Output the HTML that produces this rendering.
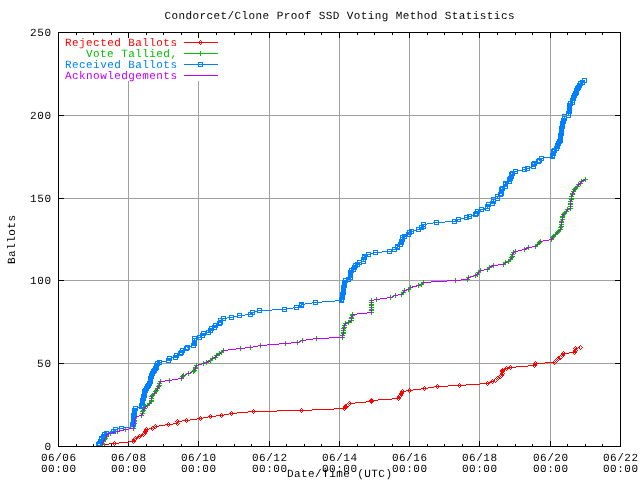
<!DOCTYPE html>
<html lang="en"><head><meta charset="utf-8">
<title>Condorcet/Clone Proof SSD Voting Method Statistics</title>
<style>
html,body{margin:0;padding:0;background:#fff;}
body{width:640px;height:480px;overflow:hidden;}
svg{display:block;will-change:transform;}
svg text{font-family:"Liberation Mono", "DejaVu Sans Mono", monospace;font-size:11px;white-space:pre;}
</style></head><body>
<svg width="640" height="480" viewBox="0 0 640 480" shape-rendering="crispEdges" text-rendering="geometricPrecision">
<rect width="640" height="480" fill="#fff"/>
<path d="M128.5 81.0V446.5M198.5 81.0V446.5M269.5 32.5V446.5M339.5 32.5V446.5M409.5 32.5V446.5M479.5 32.5V446.5M550.5 32.5V446.5M58.5 363.5H620.5M58.5 280.5H620.5M58.5 198.5H620.5M58.5 115.5H620.5" stroke="#a0a0a0" stroke-width="1" fill="none"/>
<path d="M58.5 33.0v5M58.5 446.0v-5M76.5 33.0v2M76.5 446.0v-2M93.5 33.0v2M93.5 446.0v-2M111.5 33.0v2M111.5 446.0v-2M128.5 33.0v5M128.5 446.0v-5M146.5 33.0v2M146.5 446.0v-2M163.5 33.0v2M163.5 446.0v-2M181.5 33.0v2M181.5 446.0v-2M198.5 33.0v5M198.5 446.0v-5M216.5 33.0v2M216.5 446.0v-2M234.5 33.0v2M234.5 446.0v-2M251.5 33.0v2M251.5 446.0v-2M269.5 33.0v5M269.5 446.0v-5M286.5 33.0v2M286.5 446.0v-2M304.5 33.0v2M304.5 446.0v-2M321.5 33.0v2M321.5 446.0v-2M339.5 33.0v5M339.5 446.0v-5M357.5 33.0v2M357.5 446.0v-2M374.5 33.0v2M374.5 446.0v-2M392.5 33.0v2M392.5 446.0v-2M409.5 33.0v5M409.5 446.0v-5M427.5 33.0v2M427.5 446.0v-2M444.5 33.0v2M444.5 446.0v-2M462.5 33.0v2M462.5 446.0v-2M479.5 33.0v5M479.5 446.0v-5M497.5 33.0v2M497.5 446.0v-2M515.5 33.0v2M515.5 446.0v-2M532.5 33.0v2M532.5 446.0v-2M550.5 33.0v5M550.5 446.0v-5M567.5 33.0v2M567.5 446.0v-2M585.5 33.0v2M585.5 446.0v-2M602.5 33.0v2M602.5 446.0v-2M620.5 33.0v5M620.5 446.0v-5M59.0 363.5h5M620.0 363.5h-5M59.0 280.5h5M620.0 280.5h-5M59.0 198.5h5M620.0 198.5h-5M59.0 115.5h5M620.0 115.5h-5" stroke="#000" stroke-width="1" fill="none"/>
<g>
<polyline points="103.5,444.5 114.5,443.5 133.5,441.5 134.5,439.5 135.5,438.5 139.5,436.5 143.5,434.5 144.5,433.5 145.5,431.5 146.5,429.5 152.5,428.5 155.5,426.5 168.5,424.5 177.5,423.5 177.5,421.5 186.5,420.5 200.5,418.5 210.5,416.5 221.5,415.5 231.5,413.5 253.5,411.5 301.5,410.5 344.5,408.5 345.5,406.5 347.5,405.5 349.5,403.5 371.5,401.5 371.5,400.5 398.5,398.5 399.5,396.5 400.5,395.5 401.5,393.5 402.5,391.5 409.5,390.5 424.5,388.5 437.5,386.5 459.5,385.5 487.5,383.5 492.5,381.5 495.5,380.5 497.5,378.5 500.5,376.5 501.5,375.5 502.5,373.5 502.5,371.5 502.5,370.5 506.5,368.5 510.5,367.5 534.5,365.5 535.5,363.5 554.5,362.5 556.5,360.5 558.5,358.5 560.5,357.5 562.5,355.5 563.5,353.5 574.5,352.5 575.5,350.5 575.5,348.5 580.5,347.5" fill="none" stroke="#ff0000" stroke-width="1"/>
<path d="M103.5 442.5l2 2l-2 2l-2 -2zM114.5 441.5l2 2l-2 2l-2 -2zM133.5 439.5l2 2l-2 2l-2 -2zM134.5 437.5l2 2l-2 2l-2 -2zM135.5 436.5l2 2l-2 2l-2 -2zM139.5 434.5l2 2l-2 2l-2 -2zM143.5 432.5l2 2l-2 2l-2 -2zM144.5 431.5l2 2l-2 2l-2 -2zM145.5 429.5l2 2l-2 2l-2 -2zM146.5 427.5l2 2l-2 2l-2 -2zM152.5 426.5l2 2l-2 2l-2 -2zM155.5 424.5l2 2l-2 2l-2 -2zM168.5 422.5l2 2l-2 2l-2 -2zM177.5 421.5l2 2l-2 2l-2 -2zM177.5 419.5l2 2l-2 2l-2 -2zM186.5 418.5l2 2l-2 2l-2 -2zM200.5 416.5l2 2l-2 2l-2 -2zM210.5 414.5l2 2l-2 2l-2 -2zM221.5 413.5l2 2l-2 2l-2 -2zM231.5 411.5l2 2l-2 2l-2 -2zM253.5 409.5l2 2l-2 2l-2 -2zM301.5 408.5l2 2l-2 2l-2 -2zM344.5 406.5l2 2l-2 2l-2 -2zM345.5 404.5l2 2l-2 2l-2 -2zM347.5 403.5l2 2l-2 2l-2 -2zM349.5 401.5l2 2l-2 2l-2 -2zM371.5 399.5l2 2l-2 2l-2 -2zM371.5 398.5l2 2l-2 2l-2 -2zM398.5 396.5l2 2l-2 2l-2 -2zM399.5 394.5l2 2l-2 2l-2 -2zM400.5 393.5l2 2l-2 2l-2 -2zM401.5 391.5l2 2l-2 2l-2 -2zM402.5 389.5l2 2l-2 2l-2 -2zM409.5 388.5l2 2l-2 2l-2 -2zM424.5 386.5l2 2l-2 2l-2 -2zM437.5 384.5l2 2l-2 2l-2 -2zM459.5 383.5l2 2l-2 2l-2 -2zM487.5 381.5l2 2l-2 2l-2 -2zM492.5 379.5l2 2l-2 2l-2 -2zM495.5 378.5l2 2l-2 2l-2 -2zM497.5 376.5l2 2l-2 2l-2 -2zM500.5 374.5l2 2l-2 2l-2 -2zM501.5 373.5l2 2l-2 2l-2 -2zM502.5 371.5l2 2l-2 2l-2 -2zM502.5 369.5l2 2l-2 2l-2 -2zM502.5 368.5l2 2l-2 2l-2 -2zM506.5 366.5l2 2l-2 2l-2 -2zM510.5 365.5l2 2l-2 2l-2 -2zM534.5 363.5l2 2l-2 2l-2 -2zM535.5 361.5l2 2l-2 2l-2 -2zM554.5 360.5l2 2l-2 2l-2 -2zM556.5 358.5l2 2l-2 2l-2 -2zM558.5 356.5l2 2l-2 2l-2 -2zM560.5 355.5l2 2l-2 2l-2 -2zM562.5 353.5l2 2l-2 2l-2 -2zM563.5 351.5l2 2l-2 2l-2 -2zM574.5 350.5l2 2l-2 2l-2 -2zM575.5 348.5l2 2l-2 2l-2 -2zM575.5 346.5l2 2l-2 2l-2 -2zM580.5 345.5l2 2l-2 2l-2 -2z" fill="none" stroke="#ff0000" stroke-width="1"/>
<polyline points="102.5,444.5 102.5,443.5 103.5,441.5 104.5,439.5 105.5,438.5 106.5,436.5 106.5,434.5 110.5,433.5 117.5,431.5 125.5,429.5 133.5,428.5 133.5,426.5 133.5,424.5 134.5,423.5 134.5,421.5 134.5,420.5 134.5,418.5 136.5,416.5 141.5,415.5 142.5,413.5 142.5,411.5 143.5,410.5 144.5,408.5 145.5,406.5 147.5,405.5 149.5,403.5 151.5,401.5 151.5,400.5 151.5,398.5 151.5,396.5 152.5,395.5 154.5,393.5 155.5,391.5 156.5,390.5 157.5,388.5 158.5,386.5 159.5,385.5 159.5,383.5 160.5,381.5 169.5,380.5 181.5,378.5 182.5,376.5 183.5,375.5 188.5,373.5 193.5,371.5 194.5,370.5 195.5,368.5 195.5,367.5 196.5,365.5 203.5,363.5 206.5,362.5 210.5,360.5 212.5,358.5 215.5,357.5 216.5,355.5 219.5,353.5 221.5,352.5 223.5,350.5 240.5,348.5 250.5,347.5 260.5,345.5 285.5,343.5 297.5,342.5 302.5,340.5 316.5,338.5 342.5,337.5 342.5,335.5 343.5,333.5 343.5,332.5 343.5,330.5 343.5,328.5 344.5,327.5 344.5,325.5 345.5,323.5 348.5,322.5 351.5,320.5 351.5,318.5 351.5,317.5 352.5,315.5 352.5,314.5 371.5,312.5 371.5,310.5 371.5,309.5 371.5,307.5 371.5,305.5 371.5,304.5 371.5,302.5 371.5,300.5 376.5,299.5 390.5,297.5 395.5,295.5 401.5,294.5 403.5,292.5 404.5,290.5 408.5,289.5 410.5,287.5 418.5,285.5 421.5,284.5 423.5,282.5 455.5,280.5 467.5,279.5 468.5,277.5 475.5,275.5 477.5,274.5 478.5,272.5 480.5,270.5 487.5,269.5 489.5,267.5 493.5,265.5 503.5,264.5 505.5,262.5 508.5,261.5 510.5,259.5 511.5,257.5 512.5,256.5 512.5,254.5 513.5,252.5 515.5,251.5 524.5,249.5 528.5,247.5 535.5,246.5 537.5,244.5 539.5,242.5 540.5,241.5 551.5,239.5 552.5,237.5 553.5,236.5 555.5,234.5 557.5,232.5 558.5,231.5 560.5,229.5 560.5,227.5 561.5,226.5 561.5,224.5 561.5,222.5 561.5,221.5 562.5,219.5 562.5,217.5 562.5,216.5 563.5,214.5 564.5,213.5 566.5,211.5 567.5,209.5 570.5,208.5 570.5,206.5 570.5,204.5 570.5,203.5 570.5,201.5 571.5,199.5 571.5,198.5 571.5,196.5 572.5,194.5 572.5,193.5 573.5,191.5 574.5,189.5 575.5,188.5 577.5,186.5 578.5,184.5 580.5,183.5 581.5,181.5 585.5,179.5" fill="none" stroke="#00c000" stroke-width="1"/>
<path d="M100.0 444.5h5M102.5 442.0v5M100.0 443.5h5M102.5 441.0v5M101.0 441.5h5M103.5 439.0v5M102.0 439.5h5M104.5 437.0v5M103.0 438.5h5M105.5 436.0v5M104.0 436.5h5M106.5 434.0v5M104.0 434.5h5M106.5 432.0v5M108.0 433.5h5M110.5 431.0v5M115.0 431.5h5M117.5 429.0v5M123.0 429.5h5M125.5 427.0v5M131.0 428.5h5M133.5 426.0v5M131.0 426.5h5M133.5 424.0v5M131.0 424.5h5M133.5 422.0v5M132.0 423.5h5M134.5 421.0v5M132.0 421.5h5M134.5 419.0v5M132.0 420.5h5M134.5 418.0v5M132.0 418.5h5M134.5 416.0v5M134.0 416.5h5M136.5 414.0v5M139.0 415.5h5M141.5 413.0v5M140.0 413.5h5M142.5 411.0v5M140.0 411.5h5M142.5 409.0v5M141.0 410.5h5M143.5 408.0v5M142.0 408.5h5M144.5 406.0v5M143.0 406.5h5M145.5 404.0v5M145.0 405.5h5M147.5 403.0v5M147.0 403.5h5M149.5 401.0v5M149.0 401.5h5M151.5 399.0v5M149.0 400.5h5M151.5 398.0v5M149.0 398.5h5M151.5 396.0v5M149.0 396.5h5M151.5 394.0v5M150.0 395.5h5M152.5 393.0v5M152.0 393.5h5M154.5 391.0v5M153.0 391.5h5M155.5 389.0v5M154.0 390.5h5M156.5 388.0v5M155.0 388.5h5M157.5 386.0v5M156.0 386.5h5M158.5 384.0v5M157.0 385.5h5M159.5 383.0v5M157.0 383.5h5M159.5 381.0v5M158.0 381.5h5M160.5 379.0v5M167.0 380.5h5M169.5 378.0v5M179.0 378.5h5M181.5 376.0v5M180.0 376.5h5M182.5 374.0v5M181.0 375.5h5M183.5 373.0v5M186.0 373.5h5M188.5 371.0v5M191.0 371.5h5M193.5 369.0v5M192.0 370.5h5M194.5 368.0v5M193.0 368.5h5M195.5 366.0v5M193.0 367.5h5M195.5 365.0v5M194.0 365.5h5M196.5 363.0v5M201.0 363.5h5M203.5 361.0v5M204.0 362.5h5M206.5 360.0v5M208.0 360.5h5M210.5 358.0v5M210.0 358.5h5M212.5 356.0v5M213.0 357.5h5M215.5 355.0v5M214.0 355.5h5M216.5 353.0v5M217.0 353.5h5M219.5 351.0v5M219.0 352.5h5M221.5 350.0v5M221.0 350.5h5M223.5 348.0v5M238.0 348.5h5M240.5 346.0v5M248.0 347.5h5M250.5 345.0v5M258.0 345.5h5M260.5 343.0v5M283.0 343.5h5M285.5 341.0v5M295.0 342.5h5M297.5 340.0v5M300.0 340.5h5M302.5 338.0v5M314.0 338.5h5M316.5 336.0v5M340.0 337.5h5M342.5 335.0v5M340.0 335.5h5M342.5 333.0v5M341.0 333.5h5M343.5 331.0v5M341.0 332.5h5M343.5 330.0v5M341.0 330.5h5M343.5 328.0v5M341.0 328.5h5M343.5 326.0v5M342.0 327.5h5M344.5 325.0v5M342.0 325.5h5M344.5 323.0v5M343.0 323.5h5M345.5 321.0v5M346.0 322.5h5M348.5 320.0v5M349.0 320.5h5M351.5 318.0v5M349.0 318.5h5M351.5 316.0v5M349.0 317.5h5M351.5 315.0v5M350.0 315.5h5M352.5 313.0v5M350.0 314.5h5M352.5 312.0v5M369.0 312.5h5M371.5 310.0v5M369.0 310.5h5M371.5 308.0v5M369.0 309.5h5M371.5 307.0v5M369.0 307.5h5M371.5 305.0v5M369.0 305.5h5M371.5 303.0v5M369.0 304.5h5M371.5 302.0v5M369.0 302.5h5M371.5 300.0v5M369.0 300.5h5M371.5 298.0v5M374.0 299.5h5M376.5 297.0v5M388.0 297.5h5M390.5 295.0v5M393.0 295.5h5M395.5 293.0v5M399.0 294.5h5M401.5 292.0v5M401.0 292.5h5M403.5 290.0v5M402.0 290.5h5M404.5 288.0v5M406.0 289.5h5M408.5 287.0v5M408.0 287.5h5M410.5 285.0v5M416.0 285.5h5M418.5 283.0v5M419.0 284.5h5M421.5 282.0v5M421.0 282.5h5M423.5 280.0v5M453.0 280.5h5M455.5 278.0v5M465.0 279.5h5M467.5 277.0v5M466.0 277.5h5M468.5 275.0v5M473.0 275.5h5M475.5 273.0v5M475.0 274.5h5M477.5 272.0v5M476.0 272.5h5M478.5 270.0v5M478.0 270.5h5M480.5 268.0v5M485.0 269.5h5M487.5 267.0v5M487.0 267.5h5M489.5 265.0v5M491.0 265.5h5M493.5 263.0v5M501.0 264.5h5M503.5 262.0v5M503.0 262.5h5M505.5 260.0v5M506.0 261.5h5M508.5 259.0v5M508.0 259.5h5M510.5 257.0v5M509.0 257.5h5M511.5 255.0v5M510.0 256.5h5M512.5 254.0v5M510.0 254.5h5M512.5 252.0v5M511.0 252.5h5M513.5 250.0v5M513.0 251.5h5M515.5 249.0v5M522.0 249.5h5M524.5 247.0v5M526.0 247.5h5M528.5 245.0v5M533.0 246.5h5M535.5 244.0v5M535.0 244.5h5M537.5 242.0v5M537.0 242.5h5M539.5 240.0v5M538.0 241.5h5M540.5 239.0v5M549.0 239.5h5M551.5 237.0v5M550.0 237.5h5M552.5 235.0v5M551.0 236.5h5M553.5 234.0v5M553.0 234.5h5M555.5 232.0v5M555.0 232.5h5M557.5 230.0v5M556.0 231.5h5M558.5 229.0v5M558.0 229.5h5M560.5 227.0v5M558.0 227.5h5M560.5 225.0v5M559.0 226.5h5M561.5 224.0v5M559.0 224.5h5M561.5 222.0v5M559.0 222.5h5M561.5 220.0v5M559.0 221.5h5M561.5 219.0v5M560.0 219.5h5M562.5 217.0v5M560.0 217.5h5M562.5 215.0v5M560.0 216.5h5M562.5 214.0v5M561.0 214.5h5M563.5 212.0v5M562.0 213.5h5M564.5 211.0v5M564.0 211.5h5M566.5 209.0v5M565.0 209.5h5M567.5 207.0v5M568.0 208.5h5M570.5 206.0v5M568.0 206.5h5M570.5 204.0v5M568.0 204.5h5M570.5 202.0v5M568.0 203.5h5M570.5 201.0v5M568.0 201.5h5M570.5 199.0v5M569.0 199.5h5M571.5 197.0v5M569.0 198.5h5M571.5 196.0v5M569.0 196.5h5M571.5 194.0v5M570.0 194.5h5M572.5 192.0v5M570.0 193.5h5M572.5 191.0v5M571.0 191.5h5M573.5 189.0v5M572.0 189.5h5M574.5 187.0v5M573.0 188.5h5M575.5 186.0v5M575.0 186.5h5M577.5 184.0v5M576.0 184.5h5M578.5 182.0v5M578.0 183.5h5M580.5 181.0v5M579.0 181.5h5M581.5 179.0v5M583.0 179.5h5M585.5 177.0v5" fill="none" stroke="#00c000" stroke-width="1"/>
<polyline points="98.5,444.5 99.5,443.5 100.5,441.5 101.5,439.5 101.5,438.5 103.5,436.5 104.5,434.5 106.5,433.5 113.5,431.5 115.5,429.5 121.5,428.5 132.5,426.5 132.5,424.5 133.5,423.5 133.5,421.5 133.5,420.5 133.5,418.5 133.5,416.5 133.5,415.5 134.5,413.5 134.5,411.5 134.5,410.5 135.5,408.5 141.5,406.5 141.5,405.5 142.5,403.5 142.5,401.5 142.5,400.5 143.5,398.5 143.5,396.5 144.5,395.5 144.5,393.5 144.5,391.5 145.5,390.5 146.5,388.5 147.5,386.5 148.5,385.5 149.5,383.5 150.5,381.5 150.5,380.5 150.5,378.5 151.5,376.5 151.5,375.5 152.5,373.5 153.5,371.5 154.5,370.5 155.5,368.5 156.5,367.5 156.5,365.5 157.5,363.5 159.5,362.5 168.5,360.5 169.5,358.5 175.5,357.5 176.5,355.5 180.5,353.5 181.5,352.5 182.5,350.5 186.5,348.5 187.5,347.5 193.5,345.5 194.5,343.5 194.5,342.5 194.5,340.5 194.5,338.5 199.5,337.5 202.5,335.5 203.5,333.5 208.5,332.5 210.5,330.5 211.5,328.5 214.5,327.5 215.5,325.5 219.5,323.5 220.5,322.5 220.5,320.5 223.5,318.5 231.5,317.5 239.5,315.5 250.5,314.5 252.5,312.5 259.5,310.5 284.5,309.5 296.5,307.5 301.5,305.5 301.5,304.5 315.5,302.5 341.5,300.5 341.5,299.5 342.5,297.5 342.5,295.5 342.5,294.5 343.5,292.5 343.5,290.5 343.5,289.5 343.5,287.5 344.5,285.5 344.5,284.5 344.5,282.5 345.5,280.5 348.5,279.5 350.5,277.5 350.5,275.5 350.5,274.5 350.5,272.5 351.5,270.5 353.5,269.5 354.5,267.5 355.5,265.5 357.5,264.5 359.5,262.5 363.5,261.5 363.5,259.5 364.5,257.5 364.5,256.5 368.5,254.5 375.5,252.5 389.5,251.5 394.5,249.5 397.5,247.5 397.5,246.5 400.5,244.5 401.5,242.5 401.5,241.5 402.5,239.5 402.5,237.5 404.5,236.5 408.5,234.5 409.5,232.5 411.5,231.5 418.5,229.5 421.5,227.5 423.5,226.5 423.5,224.5 436.5,222.5 454.5,221.5 458.5,219.5 466.5,217.5 469.5,216.5 475.5,214.5 476.5,213.5 477.5,211.5 481.5,209.5 487.5,208.5 487.5,206.5 488.5,204.5 492.5,203.5 493.5,201.5 493.5,199.5 497.5,198.5 497.5,196.5 500.5,194.5 501.5,193.5 501.5,191.5 501.5,189.5 502.5,188.5 505.5,186.5 505.5,184.5 505.5,183.5 509.5,181.5 509.5,179.5 510.5,178.5 511.5,176.5 511.5,174.5 512.5,173.5 515.5,171.5 524.5,169.5 527.5,168.5 533.5,166.5 533.5,164.5 534.5,163.5 538.5,161.5 539.5,160.5 541.5,158.5 552.5,156.5 552.5,155.5 553.5,153.5 553.5,151.5 554.5,150.5 556.5,148.5 557.5,146.5 557.5,145.5 558.5,143.5 559.5,141.5 560.5,140.5 560.5,138.5 560.5,136.5 560.5,135.5 561.5,133.5 561.5,131.5 561.5,130.5 561.5,128.5 562.5,126.5 562.5,125.5 562.5,123.5 563.5,121.5 563.5,120.5 564.5,118.5 564.5,116.5 568.5,115.5 568.5,113.5 569.5,111.5 569.5,110.5 569.5,108.5 569.5,107.5 569.5,105.5 570.5,103.5 572.5,102.5 572.5,100.5 573.5,98.5 573.5,97.5 574.5,95.5 575.5,93.5 576.5,92.5 576.5,90.5 577.5,88.5 578.5,87.5 579.5,85.5 580.5,83.5 582.5,82.5 584.5,80.5" fill="none" stroke="#0080ff" stroke-width="1"/>
<path d="M96.5 442.5h4v4h-4zM97.5 441.5h4v4h-4zM98.5 439.5h4v4h-4zM99.5 437.5h4v4h-4zM99.5 436.5h4v4h-4zM101.5 434.5h4v4h-4zM102.5 432.5h4v4h-4zM104.5 431.5h4v4h-4zM111.5 429.5h4v4h-4zM113.5 427.5h4v4h-4zM119.5 426.5h4v4h-4zM130.5 424.5h4v4h-4zM130.5 422.5h4v4h-4zM131.5 421.5h4v4h-4zM131.5 419.5h4v4h-4zM131.5 418.5h4v4h-4zM131.5 416.5h4v4h-4zM131.5 414.5h4v4h-4zM131.5 413.5h4v4h-4zM132.5 411.5h4v4h-4zM132.5 409.5h4v4h-4zM132.5 408.5h4v4h-4zM133.5 406.5h4v4h-4zM139.5 404.5h4v4h-4zM139.5 403.5h4v4h-4zM140.5 401.5h4v4h-4zM140.5 399.5h4v4h-4zM140.5 398.5h4v4h-4zM141.5 396.5h4v4h-4zM141.5 394.5h4v4h-4zM142.5 393.5h4v4h-4zM142.5 391.5h4v4h-4zM142.5 389.5h4v4h-4zM143.5 388.5h4v4h-4zM144.5 386.5h4v4h-4zM145.5 384.5h4v4h-4zM146.5 383.5h4v4h-4zM147.5 381.5h4v4h-4zM148.5 379.5h4v4h-4zM148.5 378.5h4v4h-4zM148.5 376.5h4v4h-4zM149.5 374.5h4v4h-4zM149.5 373.5h4v4h-4zM150.5 371.5h4v4h-4zM151.5 369.5h4v4h-4zM152.5 368.5h4v4h-4zM153.5 366.5h4v4h-4zM154.5 365.5h4v4h-4zM154.5 363.5h4v4h-4zM155.5 361.5h4v4h-4zM157.5 360.5h4v4h-4zM166.5 358.5h4v4h-4zM167.5 356.5h4v4h-4zM173.5 355.5h4v4h-4zM174.5 353.5h4v4h-4zM178.5 351.5h4v4h-4zM179.5 350.5h4v4h-4zM180.5 348.5h4v4h-4zM184.5 346.5h4v4h-4zM185.5 345.5h4v4h-4zM191.5 343.5h4v4h-4zM192.5 341.5h4v4h-4zM192.5 340.5h4v4h-4zM192.5 338.5h4v4h-4zM192.5 336.5h4v4h-4zM197.5 335.5h4v4h-4zM200.5 333.5h4v4h-4zM201.5 331.5h4v4h-4zM206.5 330.5h4v4h-4zM208.5 328.5h4v4h-4zM209.5 326.5h4v4h-4zM212.5 325.5h4v4h-4zM213.5 323.5h4v4h-4zM217.5 321.5h4v4h-4zM218.5 320.5h4v4h-4zM218.5 318.5h4v4h-4zM221.5 316.5h4v4h-4zM229.5 315.5h4v4h-4zM237.5 313.5h4v4h-4zM248.5 312.5h4v4h-4zM250.5 310.5h4v4h-4zM257.5 308.5h4v4h-4zM282.5 307.5h4v4h-4zM294.5 305.5h4v4h-4zM299.5 303.5h4v4h-4zM299.5 302.5h4v4h-4zM313.5 300.5h4v4h-4zM339.5 298.5h4v4h-4zM339.5 297.5h4v4h-4zM340.5 295.5h4v4h-4zM340.5 293.5h4v4h-4zM340.5 292.5h4v4h-4zM341.5 290.5h4v4h-4zM341.5 288.5h4v4h-4zM341.5 287.5h4v4h-4zM341.5 285.5h4v4h-4zM342.5 283.5h4v4h-4zM342.5 282.5h4v4h-4zM342.5 280.5h4v4h-4zM343.5 278.5h4v4h-4zM346.5 277.5h4v4h-4zM348.5 275.5h4v4h-4zM348.5 273.5h4v4h-4zM348.5 272.5h4v4h-4zM348.5 270.5h4v4h-4zM349.5 268.5h4v4h-4zM351.5 267.5h4v4h-4zM352.5 265.5h4v4h-4zM353.5 263.5h4v4h-4zM355.5 262.5h4v4h-4zM357.5 260.5h4v4h-4zM361.5 259.5h4v4h-4zM361.5 257.5h4v4h-4zM362.5 255.5h4v4h-4zM362.5 254.5h4v4h-4zM366.5 252.5h4v4h-4zM373.5 250.5h4v4h-4zM387.5 249.5h4v4h-4zM392.5 247.5h4v4h-4zM395.5 245.5h4v4h-4zM395.5 244.5h4v4h-4zM398.5 242.5h4v4h-4zM399.5 240.5h4v4h-4zM399.5 239.5h4v4h-4zM400.5 237.5h4v4h-4zM400.5 235.5h4v4h-4zM402.5 234.5h4v4h-4zM406.5 232.5h4v4h-4zM407.5 230.5h4v4h-4zM409.5 229.5h4v4h-4zM416.5 227.5h4v4h-4zM419.5 225.5h4v4h-4zM421.5 224.5h4v4h-4zM421.5 222.5h4v4h-4zM434.5 220.5h4v4h-4zM452.5 219.5h4v4h-4zM456.5 217.5h4v4h-4zM464.5 215.5h4v4h-4zM467.5 214.5h4v4h-4zM473.5 212.5h4v4h-4zM474.5 211.5h4v4h-4zM475.5 209.5h4v4h-4zM479.5 207.5h4v4h-4zM485.5 206.5h4v4h-4zM485.5 204.5h4v4h-4zM486.5 202.5h4v4h-4zM490.5 201.5h4v4h-4zM491.5 199.5h4v4h-4zM491.5 197.5h4v4h-4zM495.5 196.5h4v4h-4zM495.5 194.5h4v4h-4zM498.5 192.5h4v4h-4zM499.5 191.5h4v4h-4zM499.5 189.5h4v4h-4zM499.5 187.5h4v4h-4zM500.5 186.5h4v4h-4zM503.5 184.5h4v4h-4zM503.5 182.5h4v4h-4zM503.5 181.5h4v4h-4zM507.5 179.5h4v4h-4zM507.5 177.5h4v4h-4zM508.5 176.5h4v4h-4zM509.5 174.5h4v4h-4zM509.5 172.5h4v4h-4zM510.5 171.5h4v4h-4zM513.5 169.5h4v4h-4zM522.5 167.5h4v4h-4zM525.5 166.5h4v4h-4zM531.5 164.5h4v4h-4zM531.5 162.5h4v4h-4zM532.5 161.5h4v4h-4zM536.5 159.5h4v4h-4zM537.5 158.5h4v4h-4zM539.5 156.5h4v4h-4zM550.5 154.5h4v4h-4zM550.5 153.5h4v4h-4zM551.5 151.5h4v4h-4zM551.5 149.5h4v4h-4zM552.5 148.5h4v4h-4zM554.5 146.5h4v4h-4zM555.5 144.5h4v4h-4zM555.5 143.5h4v4h-4zM556.5 141.5h4v4h-4zM557.5 139.5h4v4h-4zM558.5 138.5h4v4h-4zM558.5 136.5h4v4h-4zM558.5 134.5h4v4h-4zM558.5 133.5h4v4h-4zM559.5 131.5h4v4h-4zM559.5 129.5h4v4h-4zM559.5 128.5h4v4h-4zM559.5 126.5h4v4h-4zM560.5 124.5h4v4h-4zM560.5 123.5h4v4h-4zM560.5 121.5h4v4h-4zM561.5 119.5h4v4h-4zM561.5 118.5h4v4h-4zM562.5 116.5h4v4h-4zM562.5 114.5h4v4h-4zM566.5 113.5h4v4h-4zM566.5 111.5h4v4h-4zM567.5 109.5h4v4h-4zM567.5 108.5h4v4h-4zM567.5 106.5h4v4h-4zM567.5 105.5h4v4h-4zM567.5 103.5h4v4h-4zM568.5 101.5h4v4h-4zM570.5 100.5h4v4h-4zM570.5 98.5h4v4h-4zM571.5 96.5h4v4h-4zM571.5 95.5h4v4h-4zM572.5 93.5h4v4h-4zM573.5 91.5h4v4h-4zM574.5 90.5h4v4h-4zM574.5 88.5h4v4h-4zM575.5 86.5h4v4h-4zM576.5 85.5h4v4h-4zM577.5 83.5h4v4h-4zM578.5 81.5h4v4h-4zM580.5 80.5h4v4h-4zM582.5 78.5h4v4h-4z" fill="none" stroke="#0080ff" stroke-width="1"/>
<polyline points="102.5,444.5 102.5,443.5 103.5,441.5 104.5,439.5 105.5,438.5 106.5,436.5 106.5,434.5 110.5,433.5 117.5,431.5 125.5,429.5 133.5,428.5 133.5,426.5 133.5,424.5 134.5,423.5 134.5,421.5 134.5,420.5 134.5,418.5 136.5,416.5 141.5,415.5 142.5,413.5 142.5,411.5 143.5,410.5 144.5,408.5 145.5,406.5 147.5,405.5 149.5,403.5 151.5,401.5 151.5,400.5 151.5,398.5 151.5,396.5 152.5,395.5 154.5,393.5 155.5,391.5 156.5,390.5 157.5,388.5 158.5,386.5 159.5,385.5 159.5,383.5 160.5,381.5 169.5,380.5 181.5,378.5 182.5,376.5 183.5,375.5 188.5,373.5 193.5,371.5 194.5,370.5 195.5,368.5 195.5,367.5 196.5,365.5 203.5,363.5 206.5,362.5 210.5,360.5 212.5,358.5 215.5,357.5 216.5,355.5 219.5,353.5 221.5,352.5 223.5,350.5 240.5,348.5 250.5,347.5 260.5,345.5 285.5,343.5 297.5,342.5 302.5,340.5 316.5,338.5 342.5,337.5 342.5,335.5 343.5,333.5 343.5,332.5 343.5,330.5 343.5,328.5 344.5,327.5 344.5,325.5 345.5,323.5 348.5,322.5 351.5,320.5 351.5,318.5 351.5,317.5 352.5,315.5 352.5,314.5 371.5,312.5 371.5,310.5 371.5,309.5 371.5,307.5 371.5,305.5 371.5,304.5 371.5,302.5 371.5,300.5 376.5,299.5 390.5,297.5 395.5,295.5 401.5,294.5 403.5,292.5 404.5,290.5 408.5,289.5 410.5,287.5 418.5,285.5 421.5,284.5 423.5,282.5 455.5,280.5 467.5,279.5 468.5,277.5 475.5,275.5 477.5,274.5 478.5,272.5 480.5,270.5 487.5,269.5 489.5,267.5 493.5,265.5 503.5,264.5 505.5,262.5 508.5,261.5 510.5,259.5 511.5,257.5 512.5,256.5 512.5,254.5 513.5,252.5 515.5,251.5 524.5,249.5 528.5,247.5 535.5,246.5 537.5,244.5 539.5,242.5 540.5,241.5 551.5,239.5 552.5,237.5 553.5,236.5 555.5,234.5 557.5,232.5 558.5,231.5 560.5,229.5 560.5,227.5 561.5,226.5 561.5,224.5 561.5,222.5 561.5,221.5 562.5,219.5 562.5,217.5 562.5,216.5 563.5,214.5 564.5,213.5 566.5,211.5 567.5,209.5 570.5,208.5 570.5,206.5 570.5,204.5 570.5,203.5 570.5,201.5 571.5,199.5 571.5,198.5 571.5,196.5 572.5,194.5 572.5,193.5 573.5,191.5 574.5,189.5 575.5,188.5 577.5,186.5 578.5,184.5 580.5,183.5 581.5,181.5 585.5,179.5" fill="none" stroke="#c000ff" stroke-width="1"/>
</g>
<rect x="58.5" y="32.5" width="562.0" height="414.0" fill="none" stroke="#000" stroke-width="1"/>
<text x="177.0" y="46.0" text-anchor="end" fill="#ff0000" textLength="112" lengthAdjust="spacing">Rejected Ballots</text>
<path d="M184 42.5H218" stroke="#ff0000" stroke-width="1" fill="none"/>
<path d="M200.5 40.5l2 2l-2 2l-2 -2z" fill="none" stroke="#ff0000" stroke-width="1"/>
<text x="177.0" y="57.0" text-anchor="end" fill="#00c000" textLength="91" lengthAdjust="spacing">Vote Tallied,</text>
<path d="M184 53.5H218" stroke="#00c000" stroke-width="1" fill="none"/>
<path d="M198.0 53.5h5M200.5 51.0v5" fill="none" stroke="#00c000" stroke-width="1"/>
<text x="177.0" y="68.0" text-anchor="end" fill="#0080ff" textLength="112" lengthAdjust="spacing">Received Ballots</text>
<path d="M184 64.5H218" stroke="#0080ff" stroke-width="1" fill="none"/>
<path d="M198.5 62.5h4v4h-4z" fill="none" stroke="#0080ff" stroke-width="1"/>
<text x="177.0" y="79.0" text-anchor="end" fill="#c000ff" textLength="112" lengthAdjust="spacing">Acknowledgements</text>
<path d="M184 75.5H218" stroke="#c000ff" stroke-width="1" fill="none"/>
<text x="339.5" y="19.0" text-anchor="middle" fill="#000" textLength="350" lengthAdjust="spacing">Condorcet/Clone Proof SSD Voting Method Statistics</text>
<text x="339.5" y="477.0" text-anchor="middle" fill="#000" textLength="105" lengthAdjust="spacing">Date/Time (UTC)</text>
<g transform="translate(15 239.5) rotate(-90)"><text x="0.0" y="0.0" text-anchor="middle" fill="#000" textLength="49" lengthAdjust="spacing">Ballots</text></g>
<text x="51.0" y="450.0" text-anchor="end" fill="#000" textLength="7" lengthAdjust="spacing">0</text>
<text x="51.0" y="367.0" text-anchor="end" fill="#000" textLength="14" lengthAdjust="spacing">50</text>
<text x="51.0" y="284.0" text-anchor="end" fill="#000" textLength="21" lengthAdjust="spacing">100</text>
<text x="51.0" y="202.0" text-anchor="end" fill="#000" textLength="21" lengthAdjust="spacing">150</text>
<text x="51.0" y="119.0" text-anchor="end" fill="#000" textLength="21" lengthAdjust="spacing">200</text>
<text x="51.0" y="36.0" text-anchor="end" fill="#000" textLength="21" lengthAdjust="spacing">250</text>
<text x="58.5" y="461.0" text-anchor="middle" fill="#000" textLength="35" lengthAdjust="spacing">06/06</text>
<text x="58.5" y="472.0" text-anchor="middle" fill="#000" textLength="35" lengthAdjust="spacing">00:00</text>
<text x="128.5" y="461.0" text-anchor="middle" fill="#000" textLength="35" lengthAdjust="spacing">06/08</text>
<text x="128.5" y="472.0" text-anchor="middle" fill="#000" textLength="35" lengthAdjust="spacing">00:00</text>
<text x="198.5" y="461.0" text-anchor="middle" fill="#000" textLength="35" lengthAdjust="spacing">06/10</text>
<text x="198.5" y="472.0" text-anchor="middle" fill="#000" textLength="35" lengthAdjust="spacing">00:00</text>
<text x="269.5" y="461.0" text-anchor="middle" fill="#000" textLength="35" lengthAdjust="spacing">06/12</text>
<text x="269.5" y="472.0" text-anchor="middle" fill="#000" textLength="35" lengthAdjust="spacing">00:00</text>
<text x="339.5" y="461.0" text-anchor="middle" fill="#000" textLength="35" lengthAdjust="spacing">06/14</text>
<text x="339.5" y="472.0" text-anchor="middle" fill="#000" textLength="35" lengthAdjust="spacing">00:00</text>
<text x="409.5" y="461.0" text-anchor="middle" fill="#000" textLength="35" lengthAdjust="spacing">06/16</text>
<text x="409.5" y="472.0" text-anchor="middle" fill="#000" textLength="35" lengthAdjust="spacing">00:00</text>
<text x="479.5" y="461.0" text-anchor="middle" fill="#000" textLength="35" lengthAdjust="spacing">06/18</text>
<text x="479.5" y="472.0" text-anchor="middle" fill="#000" textLength="35" lengthAdjust="spacing">00:00</text>
<text x="550.5" y="461.0" text-anchor="middle" fill="#000" textLength="35" lengthAdjust="spacing">06/20</text>
<text x="550.5" y="472.0" text-anchor="middle" fill="#000" textLength="35" lengthAdjust="spacing">00:00</text>
<text x="620.5" y="461.0" text-anchor="middle" fill="#000" textLength="35" lengthAdjust="spacing">06/22</text>
<text x="620.5" y="472.0" text-anchor="middle" fill="#000" textLength="35" lengthAdjust="spacing">00:00</text>
</svg>
</body></html>
